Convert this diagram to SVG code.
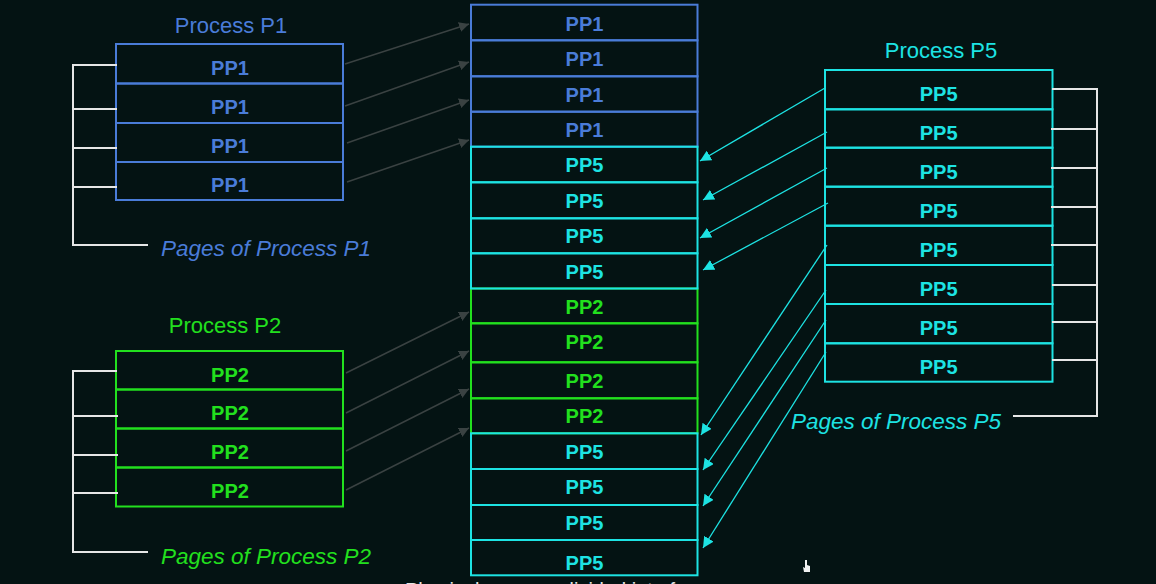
<svg xmlns="http://www.w3.org/2000/svg" width="1156" height="584" viewBox="0 0 1156 584">
<style>
.bg{fill:#041313}
.cell{fill:none;stroke-width:2}
.b{stroke:#4a7cd8}
.g{stroke:#22e01e}
.c{stroke:#1de3e3}
.lbl{font-family:"Liberation Sans",Arial,sans-serif;font-size:20px;font-weight:bold;text-anchor:middle}
.tb{fill:#4a7cd8}
.tg{fill:#22e01e}
.tc{fill:#1de3e3}
.title{font-family:"Liberation Sans",Arial,sans-serif;font-size:22px;text-anchor:middle}
.pages{font-family:"Liberation Sans",Arial,sans-serif;font-size:22.5px;font-style:italic}
.br{fill:none;stroke:#e6e6e6;stroke-width:2}
.ga{stroke:#3a4242;stroke-width:1.5;fill:none;marker-end:url(#ag)}
.ca{stroke:#1de3e3;stroke-width:1.3;fill:none;marker-end:url(#ac)}
</style>
<defs>
<marker id="ag" viewBox="0 0 10 10" refX="10" refY="5" markerWidth="10" markerHeight="10" markerUnits="userSpaceOnUse" orient="auto"><path d="M0,0 L10,5 L0,10 z" fill="#3a4242"/></marker>
<marker id="ac" viewBox="0 0 10 10" refX="10" refY="5" markerWidth="11" markerHeight="11" markerUnits="userSpaceOnUse" orient="auto"><path d="M0,0 L10,5 L0,10 z" fill="#1de3e3"/></marker>
</defs>
<rect class="bg" x="0" y="0" width="1156" height="584"/>

<g id="process-p1">
<text class="title tb" x="231" y="33">Process P1</text>
<rect class="cell b" x="116" y="44" width="227" height="39.5"/>
<rect class="cell b" x="116" y="83.5" width="227" height="39.5"/>
<rect class="cell b" x="116" y="123" width="227" height="39"/>
<rect class="cell b" x="116" y="162" width="227" height="38"/>
<text class="lbl tb" x="230" y="75">PP1</text>
<text class="lbl tb" x="230" y="114">PP1</text>
<text class="lbl tb" x="230" y="153">PP1</text>
<text class="lbl tb" x="230" y="192">PP1</text>
<path class="br" d="M117,65 H73 V245 H148 M73,109 H117 M73,148 H117 M73,187 H117"/>
<text class="pages tb" x="161" y="256">Pages of Process P1</text>
</g>

<g id="process-p2">
<text class="title tg" x="225" y="333">Process P2</text>
<rect class="cell g" x="116" y="351" width="227" height="38.5"/>
<rect class="cell g" x="116" y="389.5" width="227" height="39"/>
<rect class="cell g" x="116" y="428.5" width="227" height="39"/>
<rect class="cell g" x="116" y="467.5" width="227" height="39"/>
<text class="lbl tg" x="230" y="381.5">PP2</text>
<text class="lbl tg" x="230" y="420">PP2</text>
<text class="lbl tg" x="230" y="459">PP2</text>
<text class="lbl tg" x="230" y="498">PP2</text>
<path class="br" d="M117,371 H73 V552 H148 M73,416 H118 M73,455 H118 M73,493 H118"/>
<text class="pages tg" x="161" y="564">Pages of Process P2</text>
</g>

<g id="memory">
<g id="mem-pp1">
<rect class="cell b" x="471" y="4.7" width="226.5" height="35.6"/>
<rect class="cell b" x="471" y="40.3" width="226.5" height="36"/>
<rect class="cell b" x="471" y="76.3" width="226.5" height="35.4"/>
<rect class="cell b" x="471" y="111.7" width="226.5" height="35"/>
<text class="lbl tb" x="584.5" y="30.5">PP1</text>
<text class="lbl tb" x="584.5" y="66">PP1</text>
<text class="lbl tb" x="584.5" y="101.5">PP1</text>
<text class="lbl tb" x="584.5" y="137">PP1</text>
</g>
<g id="mem-pp2">
<rect class="cell g" x="471" y="288.5" width="226.5" height="34.8"/>
<rect class="cell g" x="471" y="323.3" width="226.5" height="39"/>
<rect class="cell g" x="471" y="362.3" width="226.5" height="36"/>
<rect class="cell g" x="471" y="398.3" width="226.5" height="35"/>
<text class="lbl tg" x="584.5" y="313.5">PP2</text>
<text class="lbl tg" x="584.5" y="349">PP2</text>
<text class="lbl tg" x="584.5" y="388">PP2</text>
<text class="lbl tg" x="584.5" y="423">PP2</text>
</g>
<g id="mem-pp5">
<rect class="cell c" x="471" y="146.7" width="226.5" height="35.6"/>
<rect class="cell c" x="471" y="182.3" width="226.5" height="36"/>
<rect class="cell c" x="471" y="218.3" width="226.5" height="35"/>
<rect class="cell c" x="471" y="253.3" width="226.5" height="35.2"/>
<rect class="cell c" x="471" y="433.3" width="226.5" height="35.7"/>
<rect class="cell c" x="471" y="469" width="226.5" height="36"/>
<rect class="cell c" x="471" y="505" width="226.5" height="35"/>
<rect class="cell c" x="471" y="540" width="226.5" height="35.3"/>
<text class="lbl tc" x="584.5" y="172">PP5</text>
<text class="lbl tc" x="584.5" y="207.5">PP5</text>
<text class="lbl tc" x="584.5" y="243">PP5</text>
<text class="lbl tc" x="584.5" y="278.5">PP5</text>
<text class="lbl tc" x="584.5" y="459">PP5</text>
<text class="lbl tc" x="584.5" y="494">PP5</text>
<text class="lbl tc" x="584.5" y="530">PP5</text>
<text class="lbl tc" x="584.5" y="570">PP5</text>
</g>
</g>

<g id="process-p5">
<text class="title tc" x="941" y="58">Process P5</text>
<rect class="cell c" x="825" y="70" width="227.5" height="39.3"/>
<rect class="cell c" x="825" y="109.3" width="227.5" height="38.4"/>
<rect class="cell c" x="825" y="147.7" width="227.5" height="39"/>
<rect class="cell c" x="825" y="186.7" width="227.5" height="39"/>
<rect class="cell c" x="825" y="225.7" width="227.5" height="39.3"/>
<rect class="cell c" x="825" y="265" width="227.5" height="39"/>
<rect class="cell c" x="825" y="304" width="227.5" height="39.3"/>
<rect class="cell c" x="825" y="343.3" width="227.5" height="38.4"/>
<text class="lbl tc" x="938.7" y="100.5">PP5</text>
<text class="lbl tc" x="938.7" y="139.5">PP5</text>
<text class="lbl tc" x="938.7" y="178.5">PP5</text>
<text class="lbl tc" x="938.7" y="217.5">PP5</text>
<text class="lbl tc" x="938.7" y="256.5">PP5</text>
<text class="lbl tc" x="938.7" y="295.5">PP5</text>
<text class="lbl tc" x="938.7" y="334.5">PP5</text>
<text class="lbl tc" x="938.7" y="373.5">PP5</text>
<path class="br" d="M1052,89 H1097 V416 H1013 M1051,129 H1097 M1051,168 H1097 M1051,207 H1097 M1051,245 H1097 M1052,285 H1097 M1052,322 H1097 M1052,360 H1097"/>
<text class="pages tc" x="791" y="429">Pages of Process P5</text>
</g>

<g id="connectors">
<line class="ga" x1="345" y1="64" x2="469" y2="24"/>
<line class="ga" x1="345" y1="106" x2="469" y2="62"/>
<line class="ga" x1="347" y1="143" x2="469" y2="100"/>
<line class="ga" x1="347" y1="182" x2="469" y2="140"/>
<line class="ga" x1="346" y1="373" x2="469" y2="312"/>
<line class="ga" x1="346" y1="413" x2="469" y2="351"/>
<line class="ga" x1="346" y1="451" x2="469" y2="389"/>
<line class="ga" x1="346" y1="490" x2="469" y2="428"/>
<line class="ca" x1="825" y1="88" x2="700" y2="161"/>
<line class="ca" x1="827" y1="132" x2="703" y2="200"/>
<line class="ca" x1="827" y1="168" x2="700" y2="238"/>
<line class="ca" x1="828" y1="203" x2="703" y2="270"/>
<line class="ca" x1="827" y1="245" x2="701" y2="435"/>
<line class="ca" x1="826" y1="290" x2="703" y2="470"/>
<line class="ca" x1="826" y1="320" x2="703" y2="506"/>
<line class="ca" x1="826" y1="352" x2="703" y2="548"/>
</g>

<text x="405" y="597" font-family="Liberation Sans, Arial, sans-serif" font-size="20" fill="#e6e6e6">Physical memory divided into frames</text>
<path d="M805,560 v8 l-2,-1 l1,5 h6 v-6 l-3,-1 v-5 z" fill="#f0f0f0"/>
</svg>
